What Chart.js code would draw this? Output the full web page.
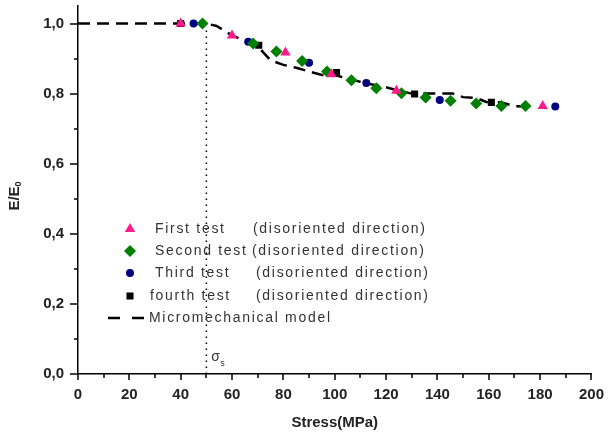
<!DOCTYPE html>
<html>
<head>
<meta charset="utf-8">
<script src="https://cdn.jsdelivr.net/npm/chart.js@4.4.0/dist/chart.umd.min.js"></script>
<style>
  html, body { margin: 0; padding: 0; background: #fff; }
  #wrap { width: 610px; height: 442px; }
</style>
</head>
<body>
<div id="wrap"><canvas id="chart"></canvas></div>
<script>
// values
const firstX  = [40, 60, 80.8, 98.7, 124, 181];
const firstY  = [1.0, 0.966, 0.917, 0.855, 0.808, 0.765];

const secondX = [48.5, 68.2, 77.3, 87.3, 97, 106.5, 116.2, 126, 135.4, 145.1, 155.1, 164.9, 174.3];
const secondY = [1.0, 0.943, 0.92, 0.893, 0.863, 0.838, 0.815, 0.801, 0.789, 0.78, 0.772, 0.765, 0.765];

const thirdX  = [45, 66.3, 90, 112.3, 140.9, 185.9];
const thirdY  = [1.0, 0.948, 0.888, 0.83, 0.782, 0.763];

const fourthX = [40, 70.4, 100.7, 131.1, 161];
const fourthY = [1.0, 0.938, 0.86, 0.799, 0.775];

const modelX  = [0, 50, 54, 60, 70, 75, 80, 85, 90, 95, 100, 106, 112, 120, 125, 130, 146, 150, 155, 159, 165, 170, 176];
const modelY  = [1.0, 1.0, 0.993, 0.966, 0.935, 0.895, 0.882, 0.874, 0.863, 0.853, 0.853, 0.841, 0.83, 0.818, 0.808, 0.80, 0.80, 0.79, 0.788, 0.776, 0.775, 0.764, 0.763];

const sigmaS = 50;
const sigmaTop = 0.98;

const legendNames = ['First test', 'Second test', 'Third test', 'fourth test', 'Micromechanical model'];
const legendNote = '(disoriented direction)';

function pts(xs, ys) {
    return xs.map(function (x, i) { return { x: x, y: ys[i] } })
}

const PINK = '#ff1a8c';
const GREEN = '#008000';
const NAVY = '#000080';

const markerSets = [
    { label: legendNames[0], data: pts(firstX, firstY), pointStyle: 'triangle', pointRadius: 6, backgroundColor: PINK, borderColor: PINK },
    { label: legendNames[1], data: pts(secondX, secondY), pointStyle: 'rectRot', pointRadius: 6, backgroundColor: GREEN, borderColor: GREEN },
    { label: legendNames[2], data: pts(thirdX, thirdY), pointStyle: 'circle', pointRadius: 4, backgroundColor: NAVY, borderColor: NAVY },
    { label: legendNames[3], data: pts(fourthX, fourthY), pointStyle: 'rect', pointRadius: 5, backgroundColor: '#000', borderColor: '#000' }
];

const datasets = markerSets.map(function (d) {
    return Object.assign({ showLine: false, borderWidth: 0, pointBorderWidth: 0 }, d)
});

datasets.push({
    label: legendNames[4],
    data: pts(modelX, modelY),
    showLine: true,
    borderColor: '#000',
    borderWidth: 2.5,
    borderDash: [12, 7],
    pointRadius: 0,
    tension: 0
});

datasets.push({
    label: 'sigma',
    data: [{ x: sigmaS, y: 0 }, { x: sigmaS, y: sigmaTop }],
    showLine: true,
    borderColor: '#000',
    borderWidth: 1.5,
    borderDash: [1.5, 4.5],
    pointRadius: 0
});

const tickFont = { family: 'Liberation Sans, Arial', size: 15, weight: 'bold' };

// minor/major tick marks, legend, y title, sigma label
const extras = {
    id: 'extras',
    afterDraw: function (chart) {
        const ctx = chart.ctx;
        const xs = chart.scales.x;
        const ys = chart.scales.y;
        const area = chart.chartArea;
        ctx.save();
        ctx.strokeStyle = '#000';
        ctx.lineWidth = 1.5;
        ctx.beginPath();
        xs.ticks.forEach(function (t) {
            const px = Math.round(xs.getPixelForValue(t.value));
            const len = (Math.round(t.value) % 20 === 0) ? 6 : 4;
            ctx.moveTo(px, area.bottom);
            ctx.lineTo(px, area.bottom + len);
        });
        ys.ticks.forEach(function (t) {
            const k = Math.round(t.value * 10);
            if (Math.abs(t.value * 10 - k) > 1e-6) return;
            const py = Math.round(ys.getPixelForValue(t.value));
            const len = (k % 2 === 0) ? 8 : 4;
            ctx.moveTo(area.left, py);
            ctx.lineTo(area.left - len, py);
        });
        ctx.stroke();

        // legend
        const rowY = [229, 251, 273, 296, 318];
        const nameX = [155, 155, 155, 150];
        const noteX = [253, 252, 256, 256];
        ctx.font = '14px "Liberation Sans", Arial';
        ctx.letterSpacing = '1.7px';
        ctx.textBaseline = 'middle';
        ctx.textAlign = 'left';
        markerSets.forEach(function (d, i) {
            ctx.fillStyle = d.backgroundColor;
            ctx.strokeStyle = d.borderColor;
            Chart.helpers.drawPoint(ctx, { pointStyle: d.pointStyle, radius: d.pointRadius, rotation: 0, borderWidth: 0 }, 130, rowY[i]);
            ctx.fillStyle = '#333';
            ctx.fillText(d.label, nameX[i], rowY[i]);
            ctx.fillText(legendNote, noteX[i], rowY[i]);
        });
        ctx.strokeStyle = '#000';
        ctx.lineWidth = 2.5;
        ctx.beginPath();
        ctx.moveTo(108, rowY[4]); ctx.lineTo(120, rowY[4]);
        ctx.moveTo(132, rowY[4]); ctx.lineTo(144, rowY[4]);
        ctx.stroke();
        ctx.fillText(legendNames[4], 149, rowY[4]);

        // sigma_s
        ctx.letterSpacing = '0px';
        const sx = xs.getPixelForValue(sigmaS);
        ctx.font = '14px "Liberation Sans", Arial';
        ctx.fillStyle = '#333';
        ctx.fillText('σ', sx + 5, 357);
        ctx.font = '9px "Liberation Sans", Arial';
        ctx.fillText('s', sx + 14, 364);

        // y title E/E0
        ctx.translate(15, 196);
        ctx.rotate(-Math.PI / 2);
        ctx.fillStyle = '#222';
        ctx.font = 'bold 15px "Liberation Sans", Arial';
        ctx.textAlign = 'left';
        const main = 'E/E';
        const w = ctx.measureText(main).width;
        ctx.fillText(main, -(w + 5) / 2, 0);
        ctx.font = 'bold 9px "Liberation Sans", Arial';
        ctx.fillText('0', -(w + 5) / 2 + w, 4);
        ctx.restore();
    }
};

const config = {
    type: 'scatter',
    data: { datasets: datasets },
    options: {
        responsive: true,
        maintainAspectRatio: false,
        animation: false,
        devicePixelRatio: 1,
        layout: { padding: { left: 0, right: 14, top: 4, bottom: 0 } },
        plugins: {
            legend: { display: false },
            tooltip: { enabled: false }
        },
        scales: {
            x: {
                type: 'linear',
                min: 0,
                max: 200,
                grid: { display: false, tickLength: 6 },
                border: { display: true, color: '#000', width: 1.5 },
                ticks: {
                    stepSize: 10,
                    autoSkip: false,
                    maxRotation: 0,
                    padding: 6,
                    color: '#222',
                    font: tickFont,
                    callback: function (v) { return (Math.round(v) % 20 === 0) ? String(v) : '' }
                },
                title: {
                    display: true,
                    text: 'Stress(MPa)',
                    color: '#222',
                    font: { family: 'Liberation Sans, Arial', size: 15, weight: 'bold' },
                    padding: { top: 0, bottom: 10 }
                },
                afterFit: function (scale) { scale.height = 68 }
            },
            y: {
                type: 'linear',
                min: 0,
                max: 1.05,
                grid: { display: false, tickLength: 14 },
                border: { display: true, color: '#000', width: 1.5 },
                ticks: {
                    stepSize: 0.1,
                    autoSkip: false,
                    padding: 0,
                    color: '#222',
                    font: { family: 'Liberation Sans, Arial', size: 15, weight: 'bold', lineHeight: 0.6 },
                    callback: function (v) {
                        const k = Math.round(v * 10);
                        if (Math.abs(v * 10 - k) > 1e-6 || k % 2) return '';
                        return (k / 10).toFixed(1).replace('.', ',');
                    }
                },
                afterFit: function (scale) { scale.width = 78 }
            }
        }
    },
    plugins: [extras]
};

const myChart = new Chart(document.getElementById('chart'), config);
</script>
</body>
</html>
